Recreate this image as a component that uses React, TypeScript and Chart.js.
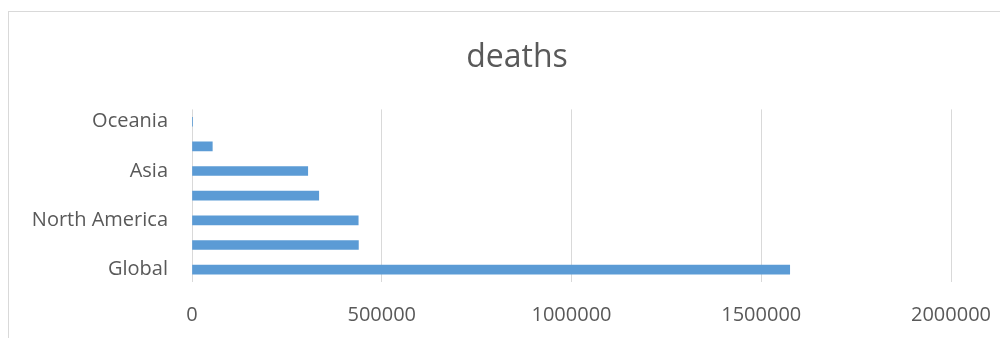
import React, { useEffect, useRef } from "react";
import { Chart, registerables } from "chart.js";

Chart.register(...registerables);

const regions = ["Global", "Europe", "North America", "South America", "Asia", "Africa", "Oceania"];
const deaths = [1575000, 438500, 438000, 334000, 305000, 53500, 950];
const xTicks = [0, 500000, 1000000, 1500000, 2000000];
const chartTitle = "deaths";

export default function App() {
  const ref = useRef<HTMLCanvasElement | null>(null);
  useEffect(() => {
    if (!ref.current) return;
    const chart = new Chart(ref.current, {
      type: "bar",
      data: {
        labels: regions,
        datasets: [
          {
            label: chartTitle,
            data: deaths,
            backgroundColor: "#5B9BD5",
            borderWidth: 0,
            barThickness: 9,
          },
        ],
      },
      options: {
        indexAxis: "y",
        animation: false,
        responsive: true,
        maintainAspectRatio: false,
        layout: { padding: 0 },
        plugins: {
          legend: { display: false },
          tooltip: { enabled: false },
          title: {
            display: true,
            text: chartTitle,
            color: "#595959",
            font: { family: "'Open Sans'", size: 32, weight: "normal" },
            padding: { top: 27, bottom: 32 },
          },
        },
        scales: {
          x: {
            min: 0,
            max: 2000000,
            afterBuildTicks: (scale: any) => {
              scale.ticks = xTicks.map((v) => ({ value: v }));
            },
            afterFit: (scale: any) => {
              scale.height = 56;
            },
            grid: { color: "#d9d9d9", lineWidth: 1, drawTicks: false },
            border: { display: false },
            ticks: {
              color: "#595959",
              font: { family: "'Open Sans'", size: 20 },
              padding: 21,
              maxRotation: 0,
              callback: (v: any) => String(v),
            },
          },
          y: {
            reverse: true,
            afterFit: (scale: any) => {
              scale.width = 183;
            },
            grid: { display: false, drawTicks: false },
            border: { display: false },
            ticks: {
              autoSkip: false,
              color: "#595959",
              font: { family: "'Open Sans'", size: 20 },
              padding: 24,
              callback: (_v: any, i: number) => (i % 2 === 0 ? regions[i] : ""),
            },
          },
          yRight: {
            type: "linear",
            position: "right",
            afterFit: (scale: any) => {
              scale.width = 74;
            },
            grid: { display: false, drawTicks: false },
            border: { display: false },
            ticks: { display: false },
          },
        },
      },
    });
    return () => chart.destroy();
  }, []);

  return (
    <div
      style={{
        marginTop: 3,
        width: 1000,
        height: 326,
        borderLeft: "1px solid #d9d9d9",
        borderTop: "1px solid #d9d9d9",
        overflow: "hidden",
        position: "relative",
        background: "#fff",
      }}
    >
      <div style={{ width: 1016, height: 326, position: "relative" }}>
        <canvas ref={ref} />
      </div>
    </div>
  );
}
